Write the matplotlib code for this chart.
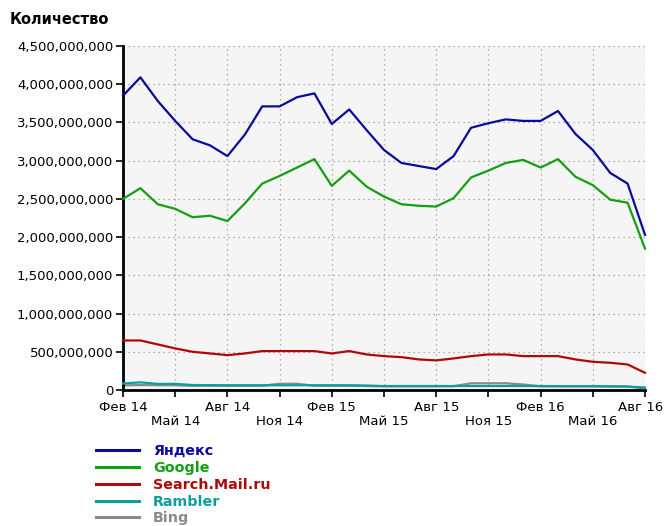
import matplotlib
matplotlib.use("Agg")
import matplotlib.pyplot as plt
from matplotlib.ticker import FuncFormatter, MultipleLocator
from matplotlib.transforms import ScaledTranslation

# ---- data (billions / millions of queries per month, Feb 2014 .. Aug 2016) ----
months = list(range(31))
tick_labels = ["Фев 14", "Май 14", "Авг 14", "Ноя 14", "Фев 15", "Май 15",
               "Авг 15", "Ноя 15", "Фев 16", "Май 16", "Авг 16"]

yandex = [3.85, 4.09, 3.78, 3.52, 3.28, 3.20, 3.06, 3.34, 3.71, 3.71, 3.83,
          3.88, 3.48, 3.67, 3.40, 3.14, 2.97, 2.93, 2.89, 3.06, 3.43, 3.49,
          3.54, 3.52, 3.52, 3.65, 3.35, 3.14, 2.84, 2.70, 2.03]
google = [2.50, 2.64, 2.43, 2.37, 2.26, 2.28, 2.21, 2.44, 2.70, 2.80, 2.91,
          3.02, 2.67, 2.87, 2.66, 2.53, 2.43, 2.41, 2.40, 2.51, 2.78, 2.87,
          2.97, 3.01, 2.91, 3.02, 2.79, 2.68, 2.49, 2.45, 1.85]
mail = [648, 648, 596, 544, 500, 478, 456, 478, 509, 509, 509, 509, 478, 509,
        465, 443, 430, 400, 387, 413, 443, 465, 465, 443, 443, 443, 400, 369,
        356, 334, 225]
rambler = [85, 100, 80, 80, 65, 64, 62, 62, 62, 62, 62, 62, 62, 62, 58, 52,
           52, 52, 52, 52, 52, 52, 52, 52, 52, 50, 50, 50, 48, 46, 22]
bing = [60, 65, 62, 62, 55, 55, 55, 55, 55, 82, 82, 55, 55, 55, 52, 48, 48,
        48, 48, 50, 88, 88, 88, 72, 48, 48, 48, 48, 46, 44, 35]

series = [
    ("Яндекс", [v * 1e9 for v in yandex], "#0a0a9c"),
    ("Google", [v * 1e9 for v in google], "#12a012"),
    ("Search.Mail.ru", [v * 1e6 for v in mail], "#b00808"),
    ("Rambler", [v * 1e6 for v in rambler], "#0a9e9e"),
    ("Bing", [v * 1e6 for v in bing], "#8a8a8a"),
]
zorders = [6, 5, 4, 3, 2]

plt.rcParams['font.family'] = ['DejaVu Sans']

fig = plt.figure(figsize=(6.65, 5.26), dpi=100)
ax = fig.add_axes([123 / 665, 1 - 390 / 526, (645 - 123) / 665, (390 - 46) / 526])
ax.set_facecolor("#f5f5f5")

for (name, vals, col), z in zip(series, zorders):
    ax.plot(months, vals, color=col, lw=1.6, label=name, zorder=z, clip_on=False)

ax.set_xlim(0, 30)
ax.set_ylim(0, 4.5e9)
ax.yaxis.set_major_locator(MultipleLocator(5e8))
ax.yaxis.set_major_formatter(FuncFormatter(lambda v, p: f"{int(round(v)):,}"))
ax.set_xticks(months[::3])
ax.set_xticklabels([l if i % 2 == 0 else "\n" + l
                    for i, l in enumerate(tick_labels)])

ax.grid(True, color="#999999", linestyle=(0, (1, 3)), linewidth=0.9)
ax.set_axisbelow(True)
for s in ["top", "right"]:
    ax.spines[s].set_visible(False)
for s in ["left", "bottom"]:
    ax.spines[s].set_linewidth(2)
    ax.spines[s].set_color("black")
ax.tick_params(axis="both", direction="out", length=5, width=1.2, colors="black",
               labelsize=9.5, pad=2)
ax.tick_params(axis="x", pad=3)
xlabs = ax.get_xticklabels()
for lab in xlabs:
    lab.set_linespacing(1.1)
xlabs[-1].set_transform(xlabs[-1].get_transform()
                        + ScaledTranslation(-4 / 100, 0, fig.dpi_scale_trans))

fig.text(10 / 665, 1 - 20 / 526, "Количество", fontsize=10.5, fontweight="bold",
         va="center", ha="left")

leg = fig.legend(loc="upper left", bbox_to_anchor=(96 / 665, 1 - 444 / 526),
                 frameon=False, handlelength=3.0, handletextpad=1.0,
                 labelspacing=0.2, borderaxespad=0, borderpad=0,
                 prop={"weight": "bold", "size": 10.3}, labelcolor="linecolor")
for h in leg.get_lines():
    h.set_linewidth(2.2)

fig.savefig("out.png", dpi=100)
